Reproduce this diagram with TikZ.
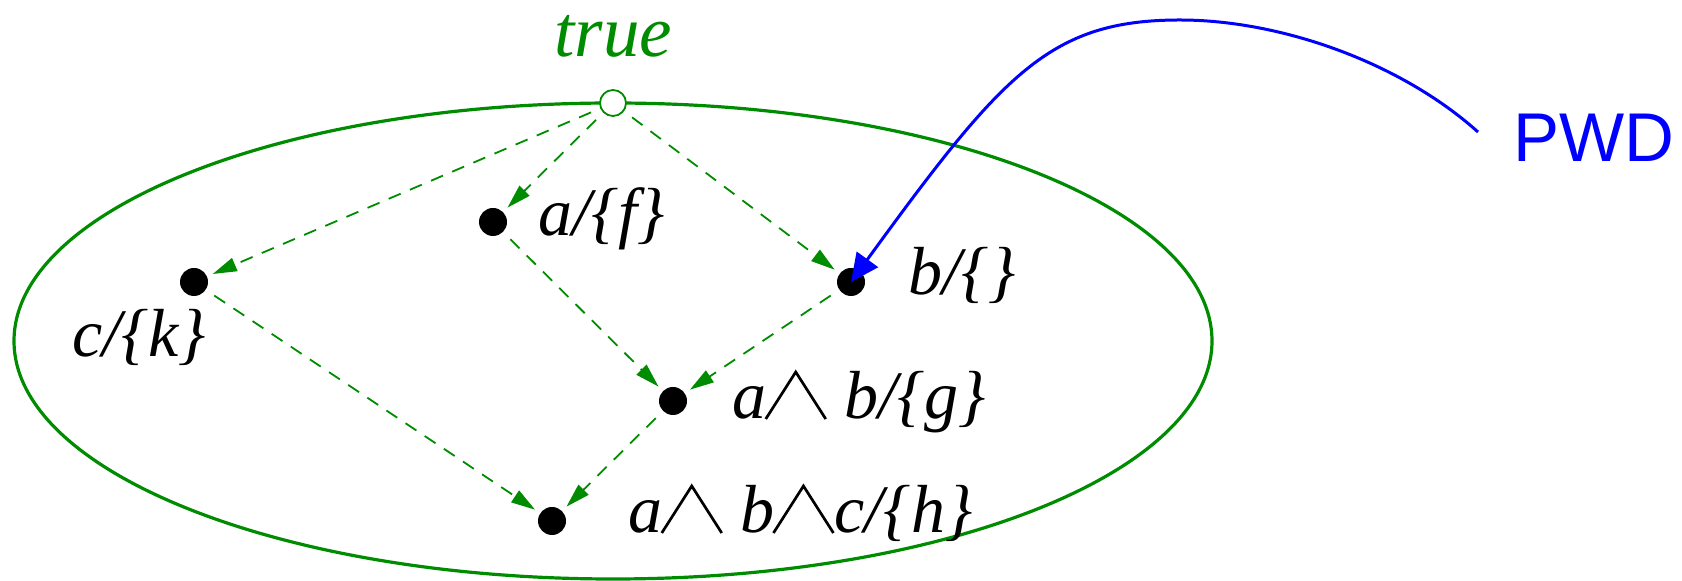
\documentclass[tikz,border=0pt]{standalone}
\usepackage{fontspec}
\setmainfont{Liberation Serif}
\newfontfamily\pwdfont{Liberation Sans}
\usetikzlibrary{arrows.meta}
\definecolor{dgreen}{RGB}{0,140,0}
\newcommand{\wdg}{\kern-1pt\tikz[baseline=0pt]\draw[line width=1.35pt,black,line join=miter] (0pt,0pt)--(15pt,23.5pt)--(30pt,0pt);}
\begin{document}
\begin{tikzpicture}[x=0.5pt,y=-0.5pt,
  dot/.style={circle,fill=black,inner sep=0pt,minimum size=14pt},
  topdot/.style={circle,draw=dgreen,fill=white,line width=0.9pt,inner sep=0pt,minimum size=13pt},
  lbl/.style={anchor=base west,inner sep=0pt,font=\fontsize{34}{40}\selectfont\itshape},
  order/.style={dgreen,dash pattern=on 6.5pt off 5pt,line width=0.9pt,-{Triangle[length=12pt,width=7pt]},shorten <=5pt,shorten >=3pt},
  pwdarrow/.style={blue,line width=1.5pt,-{Triangle[length=14pt,width=13pt]}}]
\useasboundingbox (0,0) rectangle (1682,581);
\draw[dgreen,line width=1.6pt] (613,341) ellipse [x radius=299.5pt,y radius=119pt];
% nodes
\node[topdot] (top) at (613,103) {};
\node[dot] (a) at (493,222) {};
\node[dot] (c) at (194,282) {};
\node[dot] (b) at (851,282) {};
\node[dot] (ab) at (673,401) {};
\node[dot] (abc) at (552,521) {};
% labels
\node[lbl,text=dgreen,font=\fontsize{36.5}{42}\selectfont\itshape] (ltrue) at (554,57) {true};
\node[lbl] (la) at (538,236) {a/\{f\}};
\node[lbl] (lb) at (908,295) {b/\{\}};
\node[lbl] (lc) at (72,357) {c/\{k\}};
\node[lbl] (lab) at (732,419) {a\wdg\ b/\{g\}};
\node[lbl] (labc) at (628,533) {a\wdg\ b\wdg c/\{h\}};
\node[anchor=base west,inner sep=0pt,text=blue,font=\fontsize{34.5}{40}\selectfont\pwdfont] (pwd) at (1513,162) {PWD};
% edges
\draw[order] (top) -- (c);
\draw[order] (top) -- (a);
\draw[order] (top) -- (b);
\draw[order] (a) -- (ab);
\draw[order] (b) -- (ab);
\draw[order] (c) -- (abc);
\draw[order] (ab) -- (abc);
% PWD pointer
\coordinate (pwdstart) at (1478,132);
\draw[pwdarrow] (pwdstart) .. controls (1400,62) and (1280,20) .. (1180,20) .. controls (1050,20) and (1003,73) .. (b.center);
\end{tikzpicture}
\end{document}
